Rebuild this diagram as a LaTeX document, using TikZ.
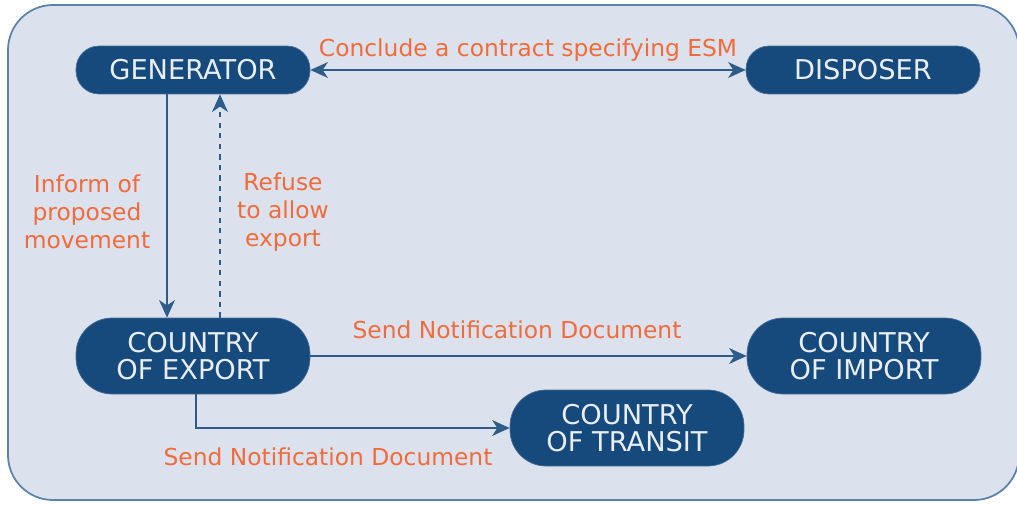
\documentclass[tikz,border=0pt]{standalone}
\usepackage{fontspec}
\setmainfont{DejaVu Sans}
\usepackage{tikz}
\usetikzlibrary{
    arrows.meta,
    calc,
    positioning
}
\definecolor{framefill}{HTML}{DCE1EE}
\definecolor{frameline}{HTML}{5A82AD}
\definecolor{boxfill}{HTML}{174A7C}
\definecolor{boxtext}{HTML}{E9EEF5}
\definecolor{linkline}{HTML}{2D5C8A}
\definecolor{notetext}{HTML}{F26B3A}

\tikzset{
    party/.style={draw=boxfill!80!white, fill=boxfill, text=boxtext, align=center,
        minimum width=4.68cm, font=\fontsize{15.5}{15.5}\selectfont},
    party1/.style={party, minimum height=0.96cm, rounded corners=0.46cm},
    party2/.style={party, minimum height=1.52cm, rounded corners=0.72cm},
    tip/.tip={Stealth[length=10pt,width=9pt,inset=3pt]},
    link/.style={draw=linkline, line width=0.8pt, -tip},
    note/.style={text=notetext, align=center, font=\fontsize{13.3}{16}\selectfont}
}

\begin{document}
\begin{tikzpicture}[x=0.02cm, y=-0.02cm]
                        \useasboundingbox (0,0) rectangle (1017,504);
                        \draw[frameline, fill=framefill, line width=1pt, rounded corners=0.9cm] (8,5) rectangle (1019,500);

                        \node[party1] (gen) at (193, 70) {GENERATOR};
                        \node[party1] (dis) at (863, 70) {DISPOSER};
                        \node[party2] (exp) at (193, 356) {COUNTRY\\OF EXPORT};
                        \node[party2] (imp) at (864, 356) {COUNTRY\\OF IMPORT};
                        \node[party2] (tra) at (627, 428) {COUNTRY\\OF TRANSIT};

                        \draw[link, tip-tip] (gen) -- (dis)
                            node[note, midway, above=1pt] (contract) {Conclude a contract specifying ESM};
                        \draw[link] ([xshift=-0.52cm]gen.south) -- ([xshift=-0.52cm]exp.north);
                        \draw[link, dash pattern=on 3pt off 3pt] ([xshift=0.54cm]exp.north) -- ([xshift=0.54cm]gen.south);
                        \draw[link] (exp) -- (imp);
                        \draw[link] ([xshift=0.06cm]exp.south) |- (tra.west);

                        \node[note] (inform) at (87, 212) {Inform of\\proposed\\movement};
                        \node[note] (refuse) at (283, 212) {Refuse\\to allow\\export};
                        \node[note] (sendimp) at (517, 330) {Send Notification Document};
                        \node[note] (sendtra) at (328, 457) {Send Notification Document};
                    \end{tikzpicture}
\end{document}
